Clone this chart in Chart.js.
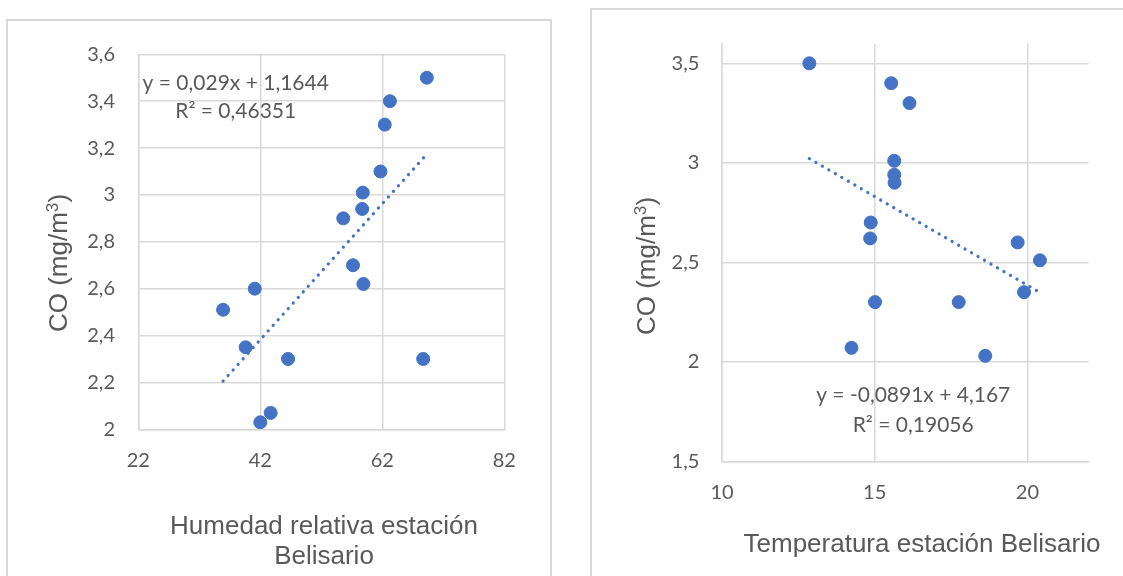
<!DOCTYPE html>
<html>
<head>
<meta charset="utf-8">
<script src="https://cdn.jsdelivr.net/npm/chart.js@4.4.1/dist/chart.umd.min.js"></script>
<style>
  html, body { margin: 0; padding: 0; background: #ffffff; overflow: hidden; }
  #page { position: relative; width: 1123px; height: 576px; }
  .frame { position: absolute; border: 2px solid #d9d9d9; box-sizing: border-box; }
  canvas { position: absolute; }
</style>
</head>
<body>
<div id="page">
  <div class="frame" style="left:6px; top:19px; width:546px; height:620px;"></div>
  <div class="frame" style="left:590px; top:8px; width:620px; height:620px;"></div>
  <canvas id="humChart" width="560" height="576" style="left:0; top:0;"></canvas>
  <canvas id="tempChart" width="563" height="576" style="left:560px; top:0;"></canvas>
</div>
<script>
// CO concentration against relative humidity (Belisario station)
const humidity = [69.3, 63.25, 62.4, 61.7, 58.8, 58.7, 55.6, 57.2, 58.9, 41.1, 35.9, 39.6, 46.55, 68.7, 43.7, 42.0];
const coHum    = [3.50, 3.40, 3.30, 3.10, 3.01, 2.94, 2.90, 2.70, 2.62, 2.60, 2.51, 2.35, 2.30, 2.30, 2.07, 2.03];

// CO concentration against temperature (Belisario station)
const temperature = [12.86, 15.54, 16.14, 15.64, 15.64, 15.65, 14.87, 14.85, 19.68, 20.41, 19.89, 15.01, 17.75, 14.24, 18.62];
const coTemp      = [3.50, 3.40, 3.30, 3.01, 2.94, 2.90, 2.70, 2.62, 2.60, 2.51, 2.35, 2.30, 2.30, 2.07, 2.03];

// Linear trendlines: [slope, intercept], and R²
const humFit = [0.029, 1.1644];
const humR2 = 0.46351;
const tempFit = [-0.0891, 4.167];
const tempR2 = 0.19056;

// Axis ticks
const humTicks = [22, 42, 62, 82];
const coHumTicks = [2, 2.2, 2.4, 2.6, 2.8, 3, 3.2, 3.4, 3.6];
const tempTicks = [10, 15, 20];
const coTempTicks = [1.5, 2, 2.5, 3, 3.5];

const BLUE = '#4472C4';
const GREY_TEXT = '#595959';
const GRID = '#d9d9d9';
const TICK_FONT = { family: 'Lato', size: 20 };
const TITLE_FAMILY = '"Liberation Sans", Arial, sans-serif';

const fmt = v => String(v).replace('.', ',');

function pts(xs, ys) { return xs.map((x, i) => ({ x: x, y: ys[i] })); }

function trend(xs, fit) {
  const lo = Math.min(...xs), hi = Math.max(...xs);
  return [lo, hi].map(x => ({ x: x, y: fit[0] * x + fit[1] }));
}

// Text drawn on top of each chart: axis titles and the trendline equation
const chartText = {
  id: 'chartText',
  afterDraw(chart, args, o) {
    const ctx = chart.ctx;
    ctx.save();
    ctx.fillStyle = GREY_TEXT;

    // x-axis title lines
    ctx.font = o.titleSize + 'px ' + TITLE_FAMILY;
    ctx.textAlign = 'center';
    ctx.textBaseline = 'alphabetic';
    o.xTitle.forEach((line, i) => {
      ctx.fillText(line, o.xTitleX, o.xTitleY + i * o.xTitleGap);
    });

    // y-axis title, rotated, with superscript 3
    ctx.save();
    ctx.translate(o.yTitleX, o.yTitleY);
    ctx.rotate(-Math.PI / 2);
    ctx.textAlign = 'left';
    const size = o.titleSize, supSize = size * 0.66;
    ctx.font = size + 'px ' + TITLE_FAMILY;
    const wMain = ctx.measureText('CO (mg/m').width;
    const wTail = ctx.measureText(')').width;
    ctx.font = supSize + 'px ' + TITLE_FAMILY;
    const wSup = ctx.measureText('3').width;
    let x = -(wMain + wSup + wTail) / 2;
    ctx.font = size + 'px ' + TITLE_FAMILY;
    ctx.fillText('CO (mg/m', x, 0);
    x += wMain;
    ctx.font = supSize + 'px ' + TITLE_FAMILY;
    ctx.fillText('3', x, -size * 0.36);
    x += wSup;
    ctx.font = size + 'px ' + TITLE_FAMILY;
    ctx.fillText(')', x, 0);
    ctx.restore();

    // trendline equation and R²
    const xs = chart.scales.x, ys = chart.scales.y;
    const fit = o.fit;
    const eq = 'y = ' + fmt(fit[0]) + 'x + ' + fmt(fit[1]);
    const r2 = 'R\u00B2 = ' + fmt(o.r2);
    ctx.font = '21px Lato';
    ctx.textAlign = 'center';
    ctx.textBaseline = 'middle';
    const ex = xs.getPixelForValue(o.eqAt[0]);
    ctx.fillText(eq, ex, ys.getPixelForValue(o.eqAt[1]));
    ctx.fillText(r2, ex, ys.getPixelForValue(o.eqAt[2]));
    ctx.restore();
  }
};

function setTicks(values) {
  return scale => { scale.ticks = values.map(v => ({ value: v })); };
}

function makeChart(id, cfg) {
  return new Chart(document.getElementById(id), {
    type: 'scatter',
    data: {
      datasets: [
        {
          data: trend(cfg.xs, cfg.fit),
          showLine: true,
          order: 0,
          borderColor: BLUE,
          borderWidth: 3.2,
          borderDash: [0.1, 7.4],
          borderCapStyle: 'round',
          pointRadius: 0,
          fill: false
        },
        {
          data: pts(cfg.xs, cfg.ys),
          order: 1,
          backgroundColor: BLUE,
          borderColor: BLUE,
          borderWidth: 1,
          pointRadius: 6.5
        }
      ]
    },
    options: {
      responsive: false,
      devicePixelRatio: 1,
      animation: false,
      events: [],
      layout: { padding: cfg.padding },
      plugins: {
        legend: { display: false },
        tooltip: { enabled: false },
        chartText: cfg.text
      },
      scales: {
        x: {
          type: 'linear',
          min: cfg.xRange[0], max: cfg.xRange[1],
          afterBuildTicks: setTicks(cfg.xTicks),
          afterFit: s => { s.height = cfg.xAxisH; },
          grid: { color: GRID, lineWidth: 1.5, drawTicks: false },
          border: { display: true, color: GRID, width: 1.5 },
          ticks: { padding: cfg.xPad, color: GREY_TEXT, font: TICK_FONT, maxRotation: 0, autoSkip: false, callback: v => fmt(v) }
        },
        y: {
          type: 'linear',
          min: cfg.yRange[0], max: cfg.yRange[1],
          afterBuildTicks: setTicks(cfg.yTicks),
          afterFit: s => { s.width = cfg.yAxisW; },
          grid: { color: GRID, lineWidth: 1.5, drawTicks: false },
          border: { display: true, color: GRID, width: 1.5 },
          ticks: { padding: cfg.yPad, color: GREY_TEXT, font: TICK_FONT, autoSkip: false, callback: v => fmt(v) }
        }
      }
    },
    plugins: [chartText]
  });
}

makeChart('humChart', {
  xs: humidity, ys: coHum, fit: humFit,
  xRange: [22, 82], yRange: [2, 3.6],
  xTicks: humTicks, yTicks: coHumTicks,
  padding: { top: 54.3, right: 55.7, left: 0, bottom: 0 },
  xAxisH: 576 - 429.3, yAxisW: 138.3,
  xPad: 19, yPad: 23.3,
  text: {
    titleSize: 26,
    xTitle: ['Humedad relativa estación', 'Belisario'],
    xTitleX: 324, xTitleY: 533.5, xTitleGap: 30,
    yTitleX: 67, yTitleY: 263,
    fit: humFit, r2: humR2,
    eqAt: [37.97, 3.476, 3.355]
  }
});

makeChart('tempChart', {
  xs: temperature, ys: coTemp, fit: tempFit,
  xRange: [10, 22], yRange: [1.5, 3.6],
  xTicks: tempTicks, yTicks: coTempTicks,
  padding: { top: 43.4, right: 34.5, left: 0, bottom: 0 },
  xAxisH: 576 - 461.3, yAxisW: 162,
  xPad: 19.4, yPad: 22.7,
  text: {
    titleSize: 26,
    xTitle: ['Temperatura estación Belisario'],
    xTitleX: 362, xTitleY: 551.7, xTitleGap: 30,
    yTitleX: 95, yTitleY: 266,
    fit: tempFit, r2: tempR2,
    eqAt: [16.26, 1.831, 1.68]
  }
});
</script>
</body>
</html>
